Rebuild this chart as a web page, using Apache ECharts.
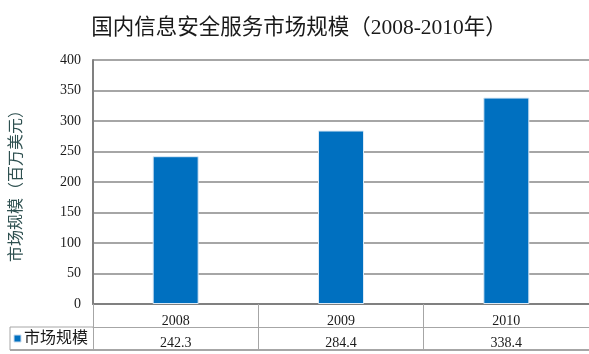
<!DOCTYPE html>
<html>
<head>
<meta charset="utf-8">
<script src="https://cdn.jsdelivr.net/npm/echarts@6/dist/echarts.min.js"></script>
<style>
html,body{margin:0;padding:0;background:#fff;}
#main{width:589px;height:354px;}
</style>
</head>
<body>
<div id="main"></div>
<script>
// 数据
var years = ['2008', '2009', '2010'];
var marketSize = [242.3, 284.4, 338.4];
var seriesName = '市场规模';
var yTicks = [0, 400, 50]; // min, max, interval

var FONT = '"Liberation Serif", "Noto Sans CJK SC", serif';
var LINE = '#a6a6a6';

var myChart = echarts.init(document.getElementById('main'));

myChart.setOption({
    animation: false,
    title: {
        text: '国内信息安全服务市场规模（2008-2010年）',
        left: 294,
        textAlign: 'center',
        top: 13,
        textStyle: {fontFamily: FONT, fontSize: 21.5, fontWeight: 'normal', color: '#1a1a1a'}
    },
    grid: {left: 93, width: 502, top: 60, bottom: 50},
    xAxis: [{
        type: 'category',
        data: years,
        axisLine: {lineStyle: {color: '#808080', width: 2}},
        axisTick: {show: true, length: 46, lineStyle: {color: LINE}},
        axisLabel: {margin: 10, fontFamily: FONT, fontSize: 14, color: '#1a1a1a'}
    }, {
        type: 'category',
        data: marketSize.map(function (v) { return v.toFixed(1); }),
        position: 'bottom',
        offset: 23,
        axisLine: {lineStyle: {color: LINE, width: 1}},
        axisTick: {show: false},
        axisLabel: {margin: 9, fontFamily: FONT, fontSize: 14, color: '#1a1a1a'}
    }],
    yAxis: {
        type: 'value',
        min: yTicks[0],
        max: yTicks[1],
        interval: yTicks[2],
        name: '市场规模（百万美元）',
        nameLocation: 'middle',
        nameGap: 68,
        nameTextStyle: {fontFamily: FONT, fontSize: 16, color: '#2e5050'},
        axisLine: {show: true, lineStyle: {color: '#808080', width: 2}},
        axisTick: {show: false},
        axisLabel: {margin: 12, fontFamily: FONT, fontSize: 14, color: '#1a1a1a'},
        splitLine: {lineStyle: {color: LINE, width: 2}}
    },
    series: [{
        name: seriesName,
        type: 'bar',
        data: marketSize,
        barWidth: 46,
        itemStyle: {color: '#0070c0', borderColor: '#dbe9f5', borderWidth: 1}
    }]
});

// 表格边框和图例
var y0 = myChart.convertToPixel({yAxisIndex: 0}, 0);
var rowH = 23;
var tableLeft = 10;
var gridLeft = 93;
myChart.setOption({
    graphic: [
        {type: 'line', shape: {x1: tableLeft, y1: y0 + rowH, x2: gridLeft, y2: y0 + rowH}, style: {stroke: LINE, lineWidth: 1}},
        {type: 'line', shape: {x1: tableLeft, y1: y0 + rowH * 2, x2: 589, y2: y0 + rowH * 2}, style: {stroke: LINE, lineWidth: 2}},
        {type: 'line', shape: {x1: tableLeft, y1: y0 + rowH, x2: tableLeft, y2: y0 + rowH * 2}, style: {stroke: LINE, lineWidth: 1}},
        {type: 'rect', shape: {x: 14, y: y0 + rowH + 8, width: 7, height: 7}, style: {fill: '#0070c0', stroke: '#c9dbee', lineWidth: 1}},
        {type: 'text', x: 24, y: y0 + rowH + 12, style: {text: seriesName, fontFamily: FONT, fontSize: 16, fill: '#1a1a1a', textVerticalAlign: 'middle'}}
    ]
});
</script>
</body>
</html>
